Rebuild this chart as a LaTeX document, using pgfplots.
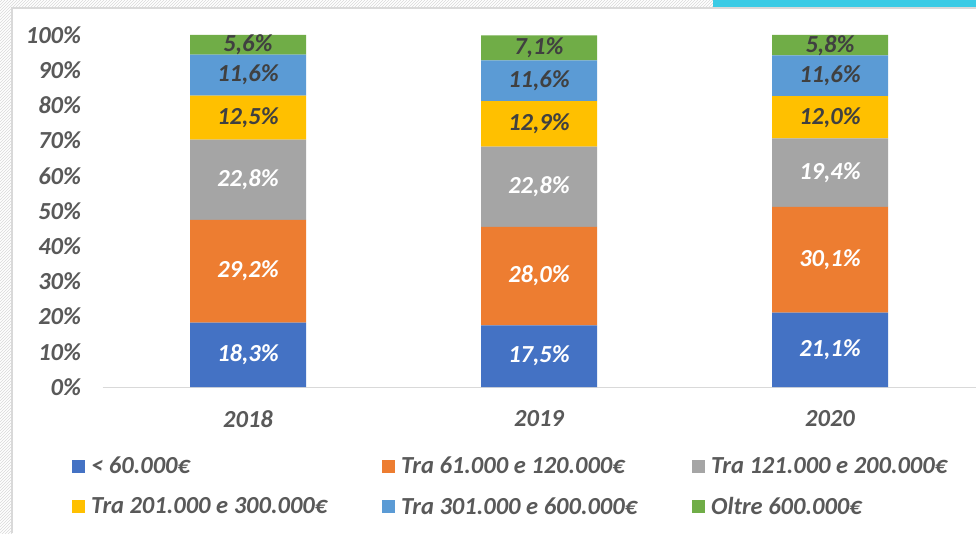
\documentclass[border=0pt]{standalone}
\usepackage{fontspec}
\setmainfont{Carlito}
\usepackage{pgfplots}
\usepackage{pgfplotstable}
\pgfplotsset{compat=1.18}
\usetikzlibrary{patterns}
\definecolor{cA}{HTML}{4472C4}
\definecolor{cB}{HTML}{ED7D31}
\definecolor{cC}{HTML}{A5A5A5}
\definecolor{cD}{HTML}{FFC000}
\definecolor{cE}{HTML}{5B9BD5}
\definecolor{cF}{HTML}{70AD47}
\definecolor{txt}{HTML}{595959}
\definecolor{lbl}{HTML}{404040}
\definecolor{frm}{HTML}{D9D9D9}
\definecolor{cyanbar}{HTML}{3BCBE5}
\newcommand\lab{\fontsize{24.5}{28}\selectfont\bfseries\itshape}
\pgfplotstableread{
x a b c d e f
0 18.3 29.2 22.8 12.5 11.6 5.6
1 17.5 28.0 22.8 12.9 11.6 7.1
2 21.1 30.1 19.4 12.0 11.6 5.8
}\data
\begin{document}
\begin{tikzpicture}[x=1pt,y=1pt]
\path[use as bounding box] (0,0) rectangle (976,533);
\fill[white] (0,0) rectangle (976,533);
\fill[pattern=north east lines, pattern color=gray!30] (0,0) rectangle (12,533);
\fill[pattern=north east lines, pattern color=gray!30] (12,525) rectangle (976,533);
\fill[cyanbar] (713,526) rectangle (976,533);
\draw[frm, line width=1.5pt] (12,0) -- (12,525) -- (976,525);
\begin{axis}[
  at={(102.5pt,146pt)}, anchor=south west,
  scale only axis, width=873pt, height=352pt,
  ybar stacked, bar width=116pt,
  xmin=-0.5, xmax=2.5, ymin=0, ymax=100,
  xtick={0,1,2}, xticklabels={2018,2019,2020},
  ytick={0,10,...,100},
  yticklabels={0\%,10\%,20\%,30\%,40\%,50\%,60\%,70\%,80\%,90\%,100\%},
  axis x line*=bottom, axis y line*=left,
  y axis line style={draw=none},
  x axis line style={frm, line width=1pt},
  major tick length=0pt, tick style={draw=none},
  ticklabel style={font=\lab, text=txt},
  yticklabel style={xshift=-18pt},
  xticklabel style={yshift=-20pt},
  point meta=explicit,
  nodes near coords={\pgfmathprintnumber[fixed,fixed zerofill,precision=1,use comma,assume math mode=true]{\pgfplotspointmeta}\%},
  every node near coord/.append style={anchor=center, font=\lab},
  legend columns=3, legend cell align=left,
  legend image code/.code={\fill[#1] (0pt,-6.5pt) rectangle (13pt,6.5pt);},
  legend style={at={(-0.0349,-0.193)}, anchor=north west, draw=none, fill=none, inner sep=0pt,
    font=\lab, text=txt, row sep=18pt,
    /tikz/every even column/.append style={column sep=53pt},
    /tikz/every odd column/.append style={column sep=4pt}},
]
\addplot[fill=cA, draw=none, every node near coord/.append style={text=white}] table[x=x,y=a,meta=a]{\data};
\addlegendentry{< 60.000€}
\addplot[fill=cB, draw=none, every node near coord/.append style={text=white}] table[x=x,y=b,meta=b]{\data};
\addlegendentry{Tra 61.000 e 120.000€}
\addplot[fill=cC, draw=none, every node near coord/.append style={text=white}] table[x=x,y=c,meta=c]{\data};
\addlegendentry{Tra 121.000 e 200.000€}
\addplot[fill=cD, draw=none, every node near coord/.append style={text=lbl}] table[x=x,y=d,meta=d]{\data};
\addlegendentry{Tra 201.000 e 300.000€}
\addplot[fill=cE, draw=none, every node near coord/.append style={text=lbl}] table[x=x,y=e,meta=e]{\data};
\addlegendentry{Tra 301.000 e 600.000€}
\addplot[fill=cF, draw=none, every node near coord/.append style={text=lbl}] table[x=x,y=f,meta=f]{\data};
\addlegendentry{Oltre 600.000€}
\end{axis}
\end{tikzpicture}
\end{document}
